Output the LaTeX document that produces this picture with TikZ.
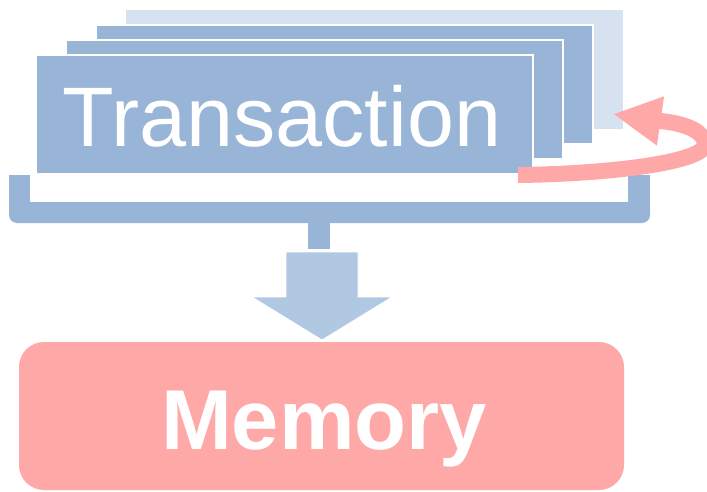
\documentclass[tikz,border=0pt]{standalone}
\usepackage{fontspec}
\setmainfont{Liberation Sans}
\usetikzlibrary{arrows.meta,positioning,calc}
\definecolor{pageblue}{RGB}{152,180,215}
\definecolor{lightpage}{RGB}{214,226,239}
\definecolor{arrowblue}{RGB}{176,200,226}
\definecolor{memred}{RGB}{255,168,168}

\begin{document}
\begin{tikzpicture}
                [x=1pt,y=-1pt,
                 page/.style={fill=pageblue,draw=white,line width=1.5pt},
                 label/.style={text=white,inner sep=0pt,anchor=base}]

                \useasboundingbox (0,0) rectangle (707,492);

                \pgfmathsetmacro{\stepX}{30}
                \pgfmathsetmacro{\stepY}{15}

                % stack of pages, back one first
                \fill[lightpage] (36+3*\stepX,55-3*\stepY) rectangle (533+3*\stepX,174-3*\stepY);
                \foreach \i in {2,1,0}
                    \filldraw[page] (36+\i*\stepX,55-\i*\stepY) rectangle (533+\i*\stepX,174-\i*\stepY);
                \node[label,font=\fontsize{84.5}{90}\selectfont] (trans) at (282,147) {Transaction};

                % bracket under the stack
                \fill[pageblue,rounded corners=8pt] (9,202) rectangle (650,223);
                \fill[pageblue] (9,175) rectangle (30,212);
                \fill[pageblue] (628,175) rectangle (650,212);
                \fill[pageblue] (308,215) rectangle (330,249);

                % big arrow down to memory
                \coordinate (arrowtop) at (322,252);
                \coordinate (arrowtip) at (322,340);
                \filldraw[fill=arrowblue,draw=white,line width=0.8pt] ($(arrowtop)+(-36,0)$) -- ($(arrowtop)+(36,0)$)
                    -- ++(0,45) -- ++(34,0) -- (arrowtip) -- ($(arrowtop)+(-70,45)$) -- ++(34,0) -- cycle;

                \fill[memred,rounded corners=25pt] (19,342) rectangle (624,490);
                \node[label,font=\fontsize{85}{90}\selectfont\bfseries] (memory) at (324,449) {Memory};

                % loop arrow over the stack
                \draw[memred,line width=16pt,-{Triangle[width=46pt,length=48pt]}] (518,175)
                    .. controls (610,174) and (706,162) .. (705,144)
                    .. controls (704,132) and (688,124) .. (661,121) -- (613,114);

            \end{tikzpicture}
\end{document}
